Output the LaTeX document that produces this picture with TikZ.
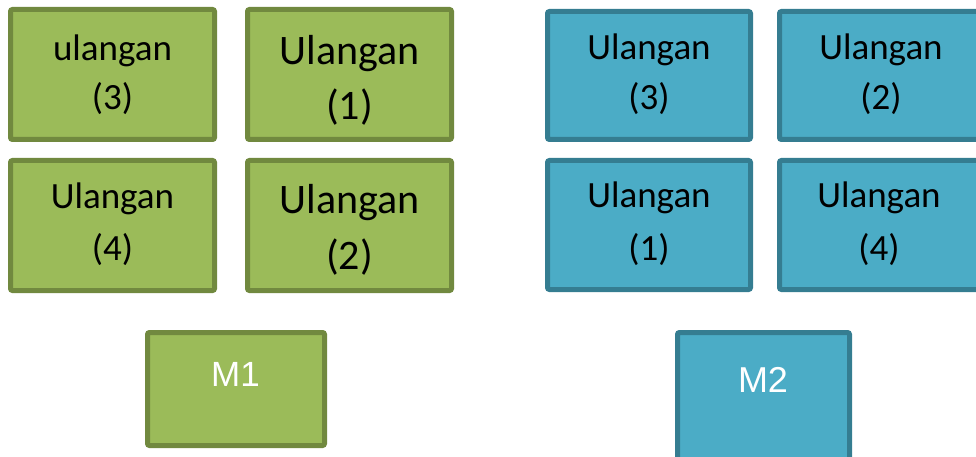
\documentclass[tikz,border=0pt]{standalone}
\usepackage{fontspec}
\setmainfont{Carlito}
\newfontfamily\arialf{Liberation Sans}
\definecolor{gfill}{HTML}{9BBB59}
\definecolor{gline}{HTML}{71893F}
\definecolor{bfill}{HTML}{4BACC6}
\definecolor{bline}{HTML}{357D91}
\tikzset{
  gbox/.style={draw=gline, fill=gfill, line width=5pt, rounded corners=2pt},
  bbox/.style={draw=bline, fill=bfill, line width=5pt, rounded corners=2pt},
  txt/.style={anchor=base, inner sep=0pt, text=black, font=\fontsize{37}{40}\selectfont},
  bigtxt/.style={anchor=base, inner sep=0pt, text=black, font=\fontsize{42}{45}\selectfont},
  mtxt/.style={anchor=base, inner sep=0pt, text=white, font=\arialf\fontsize{35}{40}\selectfont},
}
\begin{document}
\begin{tikzpicture}[x=1pt,y=-1pt]
\useasboundingbox (0,0) rectangle (976,457);
\clip (0,0) rectangle (976,457);
% green boxes
\draw[gbox] (10.5,9.5) rectangle (214.5,139.5) coordinate (g3);
\draw[gbox] (247.5,9.5) rectangle (451.5,139.5) coordinate (g1);
\draw[gbox] (10.5,160.5) rectangle (214.5,290.5) coordinate (g4);
\draw[gbox] (247.5,160.5) rectangle (451.5,290.5) coordinate (g2);
\draw[gbox] (147.5,332.5) rectangle (324.5,445.5) coordinate (m1);
% blue boxes
\draw[bbox] (547.5,11.5) rectangle (750.5,139.5) coordinate (b3);
\draw[bbox] (779.5,11.5) rectangle (990,139.5) coordinate (b2);
\draw[bbox] (547.5,160.5) rectangle (750.5,289.5) coordinate (b1);
\draw[bbox] (779.5,160.5) rectangle (990,289.5) coordinate (b4);
\draw[bbox] (677.5,332.5) rectangle (849.5,475) coordinate (m2);
% texts
\node[txt] (g3a) at (112.5,61) {ulangan};
\node[txt] (g3b) at (112.5,110) {(3)};
\node[bigtxt] (g1a) at (349.5,65) {Ulangan};
\node[bigtxt] (g1b) at (349.5,120) {(1)};
\node[txt] (g4a) at (112.5,208) {Ulangan};
\node[txt] (g4b) at (112.5,260) {(4)};
\node[bigtxt] (g2a) at (349.5,213) {Ulangan};
\node[bigtxt] (g2b) at (349.5,269) {(2)};
\node[txt] (b3a) at (649,60) {Ulangan};
\node[txt] (b3b) at (649,110) {(3)};
\node[txt] (b2a) at (881,60) {Ulangan};
\node[txt] (b2b) at (881,110) {(2)};
\node[txt] (b1a) at (649,207) {Ulangan};
\node[txt] (b1b) at (649,260) {(1)};
\node[txt] (b4a) at (879,207) {Ulangan};
\node[txt] (b4b) at (879,260) {(4)};
\node[mtxt] (m1t) at (235.5,386) {M1};
\node[mtxt, font=\arialf\fontsize{36}{40}\selectfont] (m2t) at (763,392) {M2};
\end{tikzpicture}
\end{document}
